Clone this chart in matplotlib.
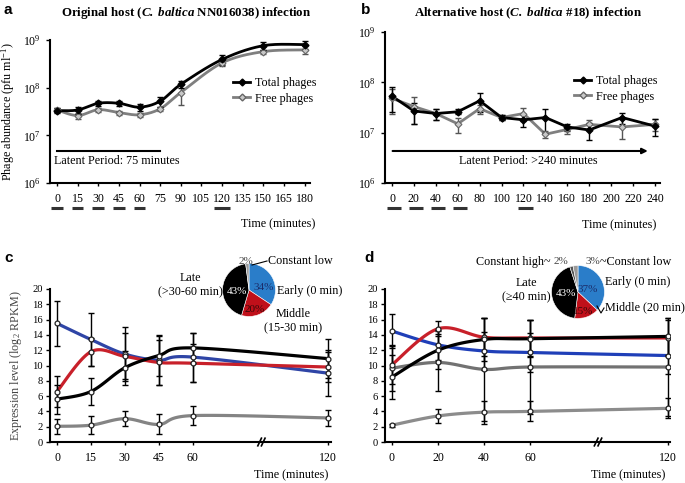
import numpy as np
import matplotlib
matplotlib.use("Agg")
import matplotlib.pyplot as plt
from matplotlib.ticker import LogLocator, LogFormatterMathtext, NullLocator
import matplotlib.transforms as mtransforms

plt.rcParams['font.family'] = ['Liberation Serif', 'DejaVu Serif']
plt.rcParams['mathtext.fontset'] = 'custom'
plt.rcParams['mathtext.rm'] = 'Liberation Serif'
plt.rcParams['mathtext.it'] = 'Liberation Serif:italic'
plt.rcParams['mathtext.bf'] = 'Liberation Serif:bold'
plt.rcParams['mathtext.bfit'] = 'Liberation Serif:italic:bold'

# ---------------- data ----------------
# panel a (original host)
time_a = [0, 15, 30, 45, 60, 75, 90, 120, 150, 180]
total_a = [3.3e7, 3.4e7, 4.7e7, 4.7e7, 3.9e7, 5.2e7, 1.17e8, 3.9e8, 7.6e8, 8.0e8]
total_a_err = [0.4e7, 0.6e7, 0.5e7, 0.6e7, 0.7e7, 1.2e7, 0.2e8, 0.9e8, 1.3e8, 1.6e8]
free_a = [3.4e7, 2.6e7, 3.45e7, 3.0e7, 2.7e7, 3.6e7, 7.9e7, 3.3e8, 5.7e8, 6.2e8]
free_a_err = [0.3e7, 0.4e7, 0.3e7, 0.3e7, 0.3e7, 0.4e7, 3.5e7, 0.5e8, 0.6e8, 1.2e8]
ticks_a = [0, 15, 30, 45, 60, 75, 90, 105, 120, 135, 150, 165, 180]
sampled_a = [0, 15, 30, 45, 60, 120]

# panel b (alternative host)
time_b = [0, 20, 40, 60, 80, 100, 120, 140, 160, 180, 210, 240]
total_b = [5.3e7, 2.7e7, 2.4e7, 2.6e7, 4.3e7, 2.0e7, 1.8e7, 2.0e7, 1.3e7, 1.13e7, 2.0e7, 1.35e7]
total_b_err = [2.7e7, 1.2e7, 0.6e7, 0.3e7, 1.7e7, 0.2e7, 0.5e7, 1.0e7, 0.2e7, 0.4e7, 0.5e7, 0.5e7]
free_b = [4.8e7, 3.3e7, 2.4e7, 1.5e7, 3.0e7, 2.0e7, 2.4e7, 0.93e7, 1.16e7, 1.46e7, 1.3e7, 1.46e7]
free_b_err = [2.5e7, 1.8e7, 0.6e7, 0.5e7, 0.6e7, 0.2e7, 0.7e7, 0.15e7, 0.2e7, 0.3e7, 0.55e7, 0.4e7]
ticks_b = [0, 20, 40, 60, 80, 100, 120, 140, 160, 180, 200, 220, 240]
sampled_b = [0, 20, 40, 60, 120]

# panel c (expression, original host)
time_c = [0, 15, 30, 45, 60, 120]
early_c = [15.5, 13.4, 11.5, 10.7, 11.1, 9.0]
early_c_err = [2.9, 3.4, 3.5, 3.2, 3.2, 3.0]
middle_c = [6.6, 11.8, 11.2, 10.4, 10.3, 9.8]
middle_c_err = [2.0, 1.8, 3.0, 2.9, 2.5, 2.0]
late_c = [5.6, 6.6, 9.7, 11.3, 12.3, 10.9]
late_c_err = [1.9, 1.8, 2.2, 2.7, 2.0, 2.5]
low_c = [2.05, 2.2, 3.05, 2.3, 3.45, 3.15]
low_c_err = [1.0, 1.2, 1.0, 1.3, 1.2, 1.0]
pie_c_labels = ['Early (0 min)', 'Middle\n(15-30 min)', 'Late\n(>30-60 min)', 'Constant low']
pie_c_vals = [34, 20, 43, 2]

# panel d (expression, alternative host)
time_d = [0, 20, 40, 60, 120]
early_d = [14.5, 12.7, 11.9, 11.7, 11.3]
early_d_err = [2.2, 2.0, 2.5, 2.5, 2.4]
middle_d = [10.1, 14.8, 13.7, 13.6, 13.6]
middle_d_err = [2.5, 1.0, 2.5, 2.4, 2.4]
late_d = [8.5, 12.0, 13.4, 13.5, 13.8]
late_d_err = [2.9, 2.5, 2.8, 2.4, 2.4]
high_d = [9.65, 10.4, 9.5, 9.8, 9.8]
high_d_err = [3.0, 3.7, 6.7, 6.2, 6.4]
low_d = [2.2, 3.4, 3.9, 4.0, 4.4]
low_d_err = [0.2, 0.9, 1.5, 1.3, 1.3]
pie_d_labels = ['Early (0 min)', 'Middle (20 min)', 'Late\n(≥40 min)', 'Constant high', 'Constant low']
pie_d_vals = [37, 15, 43, 2, 3]

# ---------------- helpers ----------------
W, H = 685, 483
fig = plt.figure(figsize=(W / 100, H / 100), dpi=100)


def rect(l, t, r, b):
    return [l / W, 1 - b / H, (r - l) / W, (b - t) / H]


def P(x, y):
    return (x / W, 1 - y / H)


def smooth(x, y, xr, yr, n=24):
    """Catmull-Rom curve through the points (drawing only)."""
    x = np.asarray(x, float) / xr
    y = np.asarray(y, float) / yr
    pts = np.column_stack([x, y])
    ext = np.vstack([pts[0], pts, pts[-1]])
    out = []
    for i in range(1, len(ext) - 2):
        p0, p1, p2, p3 = ext[i - 1], ext[i], ext[i + 1], ext[i + 2]
        t = np.linspace(0, 1, n)[:, None]
        seg = 0.5 * ((2 * p1) + (-p0 + p2) * t + (2 * p0 - 5 * p1 + 4 * p2 - p3) * t ** 2
                     + (-p0 + 3 * p1 - 3 * p2 + p3) * t ** 3)
        out.append(seg if i == 1 else seg[1:])
    out = np.vstack(out)
    return out[:, 0] * xr, out[:, 1] * yr


def style_axes(ax):
    for s in ['top', 'right']:
        ax.spines[s].set_visible(False)
    for s in ['left', 'bottom']:
        ax.spines[s].set_linewidth(1.5)
        ax.spines[s].set_color('black')


FS_TICK = 8.6
FS_LAB = 8.7

# ---------------- panel a ----------------
axa = fig.add_axes(rect(50, 40, 310, 183))
style_axes(axa)
axa.set_yscale('log')
axa.set_ylim(1e6, 1e9)
axa.set_xlim(-5.1, 184)
axa.yaxis.set_major_locator(LogLocator(base=10, numticks=10))
axa.yaxis.set_major_formatter(LogFormatterMathtext())
axa.yaxis.set_minor_locator(NullLocator())
axa.set_xticks(ticks_a)
axa.tick_params(axis='x', length=2.5, width=1, pad=5, labelsize=FS_TICK)
axa.tick_params(axis='y', length=3, width=1, labelsize=FS_TICK, direction='out')

xs, ys = smooth(time_a, np.log10(free_a), 180, 3)
axa.plot(xs, 10 ** ys, color='#7f7f7f', lw=2, zorder=2)
axa.errorbar(time_a, free_a, yerr=free_a_err, fmt='none', ecolor='#555555', elinewidth=1, capsize=2, zorder=3)
axa.plot(time_a, free_a, 'D', ms=3.5, mfc='#c8c8c8', mec='#666666', mew=0.8, zorder=4)
xs, ys = smooth(time_a, np.log10(total_a), 180, 3)
axa.plot(xs, 10 ** ys, color='black', lw=2, zorder=2)
axa.errorbar(time_a, total_a, yerr=total_a_err, fmt='none', ecolor='black', elinewidth=1, capsize=2, zorder=3)
axa.plot(time_a, total_a, 'D', ms=3.5, mfc='black', mec='black', zorder=4)

# legend a
h1, = axa.plot([], [], '-D', color='black', lw=2, ms=3.5)
h2, = axa.plot([], [], '-D', color='#7f7f7f', lw=2, ms=3.5, mfc='#c8c8c8', mec='#666666')
axa.legend([h1, h2], ['Total phages', 'Free phages'], loc='center left',
           bbox_to_anchor=P(227, 91), bbox_transform=fig.transFigure, frameon=False,
           fontsize=FS_LAB, handlelength=1.4, handletextpad=0.4, labelspacing=0.25, borderpad=0)

trA = mtransforms.blended_transform_factory(axa.transData, axa.transAxes)
axa.plot([0, 75], [0.224, 0.224], color='black', lw=1.5, transform=trA, clip_on=False)
axa.text(-2.2, 0.155, 'Latent Period: 75 minutes', transform=trA, fontsize=FS_LAB, va='center', ha='left')
for t in sampled_a:
    hw = 6 if t == 120 else 4.2
    axa.plot([t - hw, t + hw], [-0.175, -0.175], color='#333333', lw=2.2, transform=trA,
             clip_on=False, solid_capstyle='butt')
axa.set_ylabel('Phage abundance (pfu ml$^{-1}$)', fontsize=FS_LAB, labelpad=4)
fig.text(*P(315, 224), 'Time (minutes)', fontsize=FS_LAB, ha='right', va='center')
fig.text(*P(186, 13), r'Original host ($\mathbfit{C.\ baltica}$ NN016038) infection',
         fontsize=9.3, fontweight='bold', ha='center', va='center')

# ---------------- panel b ----------------
axb = fig.add_axes(rect(385, 32, 660, 183))
style_axes(axb)
axb.set_yscale('log')
axb.set_ylim(1e6, 1e9)
axb.set_xlim(-6.4, 244.6)
axb.yaxis.set_major_locator(LogLocator(base=10, numticks=10))
axb.yaxis.set_major_formatter(LogFormatterMathtext())
axb.yaxis.set_minor_locator(NullLocator())
axb.set_xticks(ticks_b)
axb.tick_params(axis='x', length=2.5, width=1, pad=5, labelsize=FS_TICK)
axb.tick_params(axis='y', length=3, width=1, labelsize=FS_TICK, direction='out')

axb.plot(time_b, free_b, color='#7f7f7f', lw=2, zorder=2)
axb.errorbar(time_b, free_b, yerr=free_b_err, fmt='none', ecolor='#555555', elinewidth=1, capsize=2, zorder=3)
axb.plot(time_b, free_b, 'D', ms=3.5, mfc='#c8c8c8', mec='#666666', mew=0.8, zorder=4)
axb.plot(time_b, total_b, color='black', lw=2, zorder=2)
axb.errorbar(time_b, total_b, yerr=total_b_err, fmt='none', ecolor='black', elinewidth=1, capsize=2, zorder=3)
axb.plot(time_b, total_b, 'D', ms=3.5, mfc='black', mec='black', zorder=4)
h1, = axb.plot([], [], '-D', color='black', lw=2, ms=3.5)
h2, = axb.plot([], [], '-D', color='#7f7f7f', lw=2, ms=3.5, mfc='#c8c8c8', mec='#666666')
axb.legend([h1, h2], ['Total phages', 'Free phages'], loc='center left',
           bbox_to_anchor=P(568, 89), bbox_transform=fig.transFigure, frameon=False,
           fontsize=FS_LAB, handlelength=1.4, handletextpad=0.4, labelspacing=0.25, borderpad=0)

trB = mtransforms.blended_transform_factory(axb.transData, axb.transAxes)
axb.annotate('', xy=(236, 0.212), xytext=(-2, 0.212), xycoords=trB, textcoords=trB,
             arrowprops=dict(arrowstyle='-|>', color='black', lw=1.5, mutation_scale=8))
axb.text(124, 0.148, 'Latent Period: >240 minutes', transform=trB, fontsize=FS_LAB, va='center', ha='center')
for t in sampled_b:
    hw = 7 if t == 120 else 6.5
    axb.plot([t - hw + 2, t + hw + 2], [-0.166, -0.166], color='#333333', lw=2.2, transform=trB,
             clip_on=False, solid_capstyle='butt')
fig.text(*P(656, 225), 'Time (minutes)', fontsize=FS_LAB, ha='right', va='center')
fig.text(*P(528, 13), r'Alternative host ($\mathbfit{C.\ baltica}$ #18) infection',
         fontsize=9.3, fontweight='bold', ha='center', va='center')


# ---------------- panels c, d ----------------
def expr_panel(box, xlim, times, series, xticks, xbreak):
    ax = fig.add_axes(box)
    style_axes(ax)
    ax.set_xlim(*xlim)
    ax.set_ylim(0, 20)
    ax.set_yticks(range(0, 21, 2))
    ax.set_xticks(xticks)
    ax.tick_params(axis='y', length=3, width=1, labelsize=7.6, pad=2)
    ax.tick_params(axis='x', length=2.5, width=1, pad=5, labelsize=FS_TICK)
    for vals, errs, col in series:
        xs, ys = smooth(times, vals, 120, 20)
        ax.plot(xs, ys, color=col, lw=2.3, zorder=2, solid_capstyle='round')
    for vals, errs, col in series:
        ax.errorbar(times, vals, yerr=errs, fmt='none', ecolor='black', elinewidth=1, capsize=2, zorder=3)
        ax.plot(times, vals, 'o', ms=3.5, mfc='white', mec='#222222', mew=0.9, zorder=4)
    tr = mtransforms.blended_transform_factory(ax.transData, ax.transAxes)
    for dx in (-0.8, 0.8):
        ax.plot([xbreak + dx - 0.8, xbreak + dx + 0.8], [-0.025, 0.025], color='black', lw=1.2,
                transform=tr, clip_on=False, zorder=5)
    return ax


BLUE = '#2f45a6'
RED = '#c8202a'
GRAY = '#848484'
axc = expr_panel(rect(50, 289, 331, 442), (-3.1, 121.3), time_c,
                 [(early_c, early_c_err, BLUE), (middle_c, middle_c_err, RED),
                  (late_c, late_c_err, 'black'), (low_c, low_c_err, GRAY)],
                 time_c, 90.5)
axc.set_ylabel('Expression level (log$_2$ RPKM)', fontsize=FS_LAB, labelpad=6, color='#444444')
fig.text(*P(328, 475), 'Time (minutes)', fontsize=FS_LAB, ha='right', va='center')

axd = expr_panel(rect(385, 289, 670, 442), (-3.04, 120.9), time_d,
                 [(high_d, high_d_err, '#727272'), (low_d, low_d_err, '#8c8c8c'),
                  (early_d, early_d_err, '#1f3fb8'), (middle_d, middle_d_err, RED),
                  (late_d, late_d_err, 'black')],
                 time_d, 89.6)
fig.text(*P(665, 475), 'Time (minutes)', fontsize=FS_LAB, ha='right', va='center')

# ---------------- pies ----------------
PIE_BLUE = '#2a7dc9'
PIE_RED = '#c0101a'


def pie(cx, cy, r, vals, cols):
    ax = fig.add_axes(rect(cx - r, cy - r, cx + r, cy + r))
    ax.pie(vals, colors=cols, startangle=90, counterclock=False,
           wedgeprops=dict(edgecolor='white', linewidth=0.4))
    ax.set_xlim(-1.02, 1.02)
    ax.set_ylim(-1.02, 1.02)
    ax.set_aspect('equal')
    ax.set_axis_off()
    return ax


FS_PCT = 8.0
pie(249, 290, 27, pie_c_vals, [PIE_BLUE, PIE_RED, 'black', '#9a9a9a'])
fig.text(*P(237, 291), f'{pie_c_vals[2]}%', color='white', fontsize=FS_PCT, ha='center', va='center')
fig.text(*P(264, 287), f'{pie_c_vals[0]}%', color='#1b2d6b', fontsize=FS_PCT, ha='center', va='center')
fig.text(*P(255, 309), f'{pie_c_vals[1]}%', color='#3a0808', fontsize=FS_PCT, ha='center', va='center')
fig.text(*P(246, 261), f'{pie_c_vals[3]}%', color='#444444', fontsize=FS_PCT, ha='center', va='center')
fig.add_artist(plt.Line2D([252 / W, 267 / W], [1 - 265 / H, 1 - 261 / H], color='black', lw=0.8))
fig.text(*P(268, 261), pie_c_labels[3], fontsize=FS_LAB, ha='left', va='center')
fig.text(*P(277, 291), pie_c_labels[0], fontsize=FS_LAB, ha='left', va='center')
fig.text(*P(293, 321), pie_c_labels[1], fontsize=FS_LAB, ha='center', va='center', linespacing=1.3)
fig.text(*P(190, 285), pie_c_labels[2], fontsize=FS_LAB, ha='center', va='center', linespacing=1.3)

pie(578, 292, 27, pie_d_vals, [PIE_BLUE, PIE_RED, 'black', '#555555', '#9a9a9a'])
fig.text(*P(566, 293), f'{pie_d_vals[2]}%', color='white', fontsize=FS_PCT, ha='center', va='center')
fig.text(*P(588, 290), f'{pie_d_vals[0]}%', color='#1b2d6b', fontsize=FS_PCT, ha='center', va='center')
fig.text(*P(583, 312), f'{pie_d_vals[1]}%', color='#3a0808', fontsize=FS_PCT, ha='center', va='center')
fig.text(*P(561, 262), f'{pie_d_vals[3]}%', color='#444444', fontsize=FS_PCT, ha='center', va='center')
fig.text(*P(593, 262), f'{pie_d_vals[4]}%', color='#444444', fontsize=FS_PCT, ha='center', va='center')
fig.text(*P(551, 262), pie_d_labels[3] + '~', fontsize=FS_LAB, ha='right', va='center')
fig.text(*P(600, 262), '~' + pie_d_labels[4], fontsize=FS_LAB, ha='left', va='center')
fig.text(*P(605, 282), pie_d_labels[0], fontsize=FS_LAB, ha='left', va='center')
fig.text(*P(605, 307), pie_d_labels[1], fontsize=FS_LAB, ha='left', va='center')
fig.add_artist(plt.Line2D([597 / W, 601 / W, 604 / W], [1 - 306 / H, 1 - 313 / H, 1 - 308 / H],
                          color='black', lw=0.8))
fig.text(*P(526, 290), pie_d_labels[2], fontsize=FS_LAB, ha='center', va='center', linespacing=1.3)

# ---------------- panel letters ----------------
for lab, x, y in [('a', 4, 10), ('b', 361, 10), ('c', 4, 258), ('d', 364, 258)]:
    fig.text(*P(x, y), lab, fontsize=11, fontweight='bold', family='Liberation Sans', va='center', ha='left')

fig.savefig('out.png', dpi=100)
